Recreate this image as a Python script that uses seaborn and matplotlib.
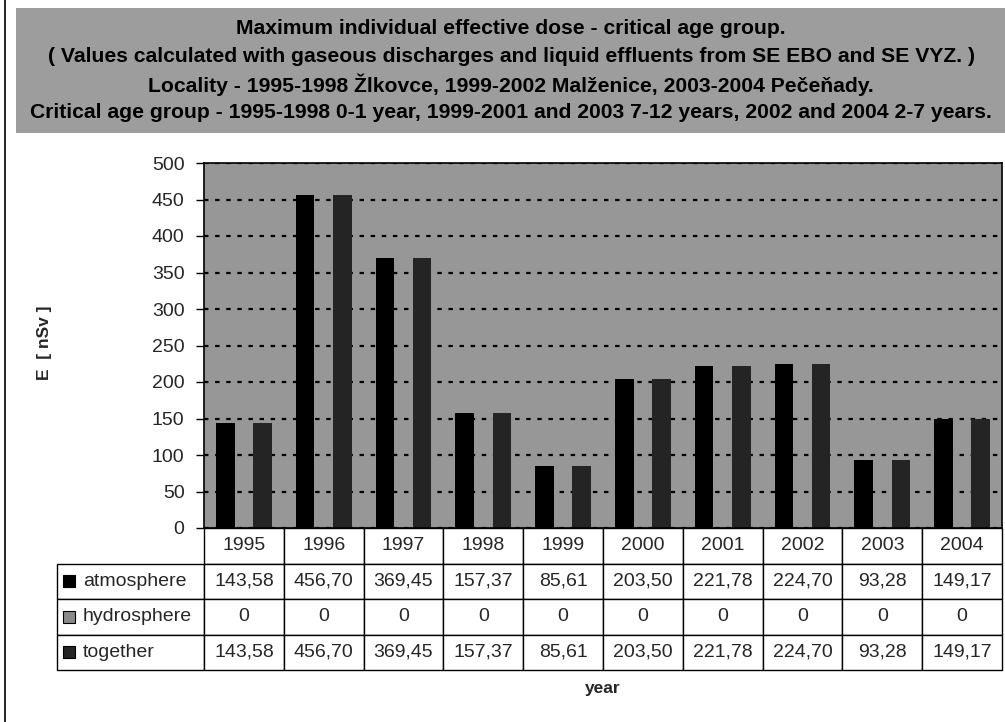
import matplotlib
matplotlib.use("Agg")
import matplotlib.pyplot as plt
from matplotlib.patches import Rectangle
from matplotlib.lines import Line2D
import seaborn as sns
import pandas as pd

# ---- data ----
years = ["1995", "1996", "1997", "1998", "1999", "2000", "2001", "2002", "2003", "2004"]
series = ["atmosphere", "hydrosphere", "together"]
atmosphere = [143.58, 456.70, 369.45, 157.37, 85.61, 203.50, 221.78, 224.70, 93.28, 149.17]
hydrosphere = [0, 0, 0, 0, 0, 0, 0, 0, 0, 0]
together = [143.58, 456.70, 369.45, 157.37, 85.61, 203.50, 221.78, 224.70, 93.28, 149.17]

title_lines = [
    "Maximum individual effective dose - critical age group.",
    "( Values calculated with gaseous discharges and liquid effluents from SE EBO and SE VYZ. )",
    "Locality - 1995-1998 Žlkovce, 1999-2002 Malženice, 2003-2004 Pečeňady.",
    "Critical age group - 1995-1998 0-1 year, 1999-2001 and 2003 7-12 years, 2002 and 2004 2-7 years.",
]
y_ticks = [0, 50, 100, 150, 200, 250, 300, 350, 400, 450, 500]

values = {"atmosphere": atmosphere, "hydrosphere": hydrosphere, "together": together}
df = pd.DataFrame(
    [(y, s, v) for s in series for y, v in zip(years, values[s])],
    columns=["year", "series", "E"],
)

def fmt(v):
    return "0" if v == 0 else f"{v:.2f}".replace(".", ",")

# ---- style ----
sns.set_style("white")
plt.rcParams["font.family"] = ["Liberation Sans", "DejaVu Sans"]

colors = {"atmosphere": "#000000", "hydrosphere": "#8a8a8a", "together": "#242424"}
band_gray = "#9d9d9d"
plot_gray = "#979797"

W, H = 1005, 722
fig = plt.figure(figsize=(W / 100, H / 100), dpi=100)
fig.patch.set_facecolor("white")

def fx(px):
    return px / W

def fy(py):
    return 1 - py / H

# plot area
left, right, top, bottom = 204, 1002, 163, 528
ax = fig.add_axes([fx(left), fy(bottom), fx(right - left), (bottom - top) / H])
ax.set_facecolor(plot_gray)

sns.barplot(
    data=df, x="year", y="E", hue="series", hue_order=series, order=years,
    palette=colors, width=0.7, gap=0, linewidth=0, saturation=1,
    legend=False, ax=ax,
)

ax.set_ylim(0, 500)
ax.set_xlim(-0.5, len(years) - 0.5)
ax.set_yticks(y_ticks)
ax.set_yticklabels([str(t) for t in y_ticks], fontsize=14)
ax.tick_params(axis="y", direction="out", length=6, width=1, color="black", pad=8, left=True)
ax.tick_params(axis="x", bottom=False, labelbottom=False)
ax.set_xlabel("")
ax.set_ylabel("")
for sp in ax.spines.values():
    sp.set_visible(True)
    sp.set_color("black")
    sp.set_linewidth(1.2)

# dotted gridlines
ax.yaxis.grid(True, color="black", linestyle=(0, (2, 3)), linewidth=1.6)
ax.xaxis.grid(False)
ax.set_axisbelow(True)

# ---- data table under the plot ----
ncols = len(years)
cell_rows = [[""] + years]
for s in series:
    cell_rows.append([s] + [fmt(v) for v in values[s]])

tab_left = (57 - left) / (right - left)
tab_w = 1 - tab_left
tab_h = (670 - bottom) / (bottom - top)
label_w = (left - 57) / (right - 57)
col_w = (1 - label_w) / ncols
tab = ax.table(
    cellText=cell_rows, cellLoc="center",
    colWidths=[label_w] + [col_w] * ncols,
    bbox=[tab_left, -tab_h, tab_w, tab_h],
)
tab.auto_set_font_size(False)
for (r, c), cell in tab.get_celld().items():
    cell.set_fontsize(14)
    cell.set_edgecolor("black")
    cell.set_linewidth(1.0)
    cell.set_facecolor("white")
    if c == 0:
        cell.get_text().set_horizontalalignment("left")
        cell.PAD = 26 / (left - 57)
    if r == 0 and c == 0:
        cell.visible_edges = "open"

# legend keys inside the label column
nrows = len(cell_rows)
row_h = tab_h / nrows
key_w = 12 / (right - left)
key_h = 12 / (bottom - top)
key_x = (63 - left) / (right - left)
for i, s in enumerate(series, start=1):
    yc = -row_h * (i + 0.5)
    ax.add_patch(Rectangle((key_x, yc - key_h / 2), key_w, key_h,
                           transform=ax.transAxes, clip_on=False,
                           facecolor=colors[s], edgecolor="black", linewidth=0.8,
                           zorder=5))

# ---- axis titles ----
fig.text(fx(44), fy(343), "E  [ nSv ]", rotation=90, ha="center", va="center",
         fontsize=12.5, fontweight="bold")
fig.text(fx(603), fy(689), "year", ha="center", va="center",
         fontsize=12.5, fontweight="bold")

# ---- title band ----
fig.patches.append(Rectangle((fx(16), fy(133)), fx(W - 16), (133 - 8) / H,
                             transform=fig.transFigure, facecolor=band_gray,
                             edgecolor="none", zorder=0))
for i, line in enumerate(title_lines):
    fig.text(fx(511), fy(29 + 28 * i), line, ha="center", va="center",
             fontsize=15.2, fontweight="bold", color="black")

# chart frame line on the left
fig.add_artist(Line2D([fx(5), fx(5)], [0, 1], transform=fig.transFigure,
                      color="black", linewidth=1.2))

fig.savefig("out.png", dpi=100)
